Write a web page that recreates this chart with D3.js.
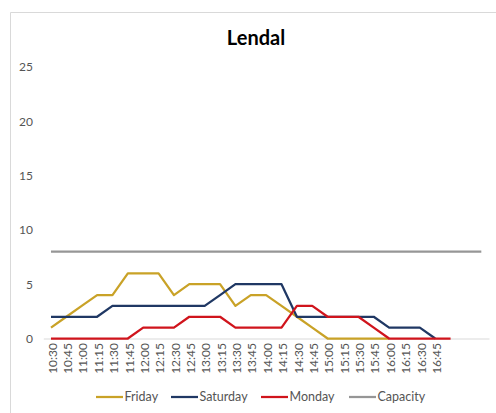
<!DOCTYPE html>
<html>
<head>
<meta charset="utf-8">
<script src="https://cdn.jsdelivr.net/npm/d3@7"></script>
<style>
  html, body { margin: 0; padding: 0; background: #fff; }
  svg { display: block; }
  text { font-family: Lato, "Open Sans", sans-serif; }
</style>
</head>
<body>
<svg id="chart" width="496" height="413"></svg>
<script>
const categories = ["10:30","10:45","11:00","11:15","11:30","11:45","12:00","12:15","12:30","12:45",
  "13:00","13:15","13:30","13:45","14:00","14:15","14:30","14:45","15:00","15:15",
  "15:30","15:45","16:00","16:15","16:30","16:45","","",""];
const friday   = [1,2,3,4,4,6,6,6,4,5,5,5,3,4,4,3,2,1,0,0,0,0,0,null,null,null,null,null,null];
const saturday = [2,2,2,2,3,3,3,3,3,3,3,4,5,5,5,5,2,2,2,2,2,2,1,1,1,0,null,null,null];
const monday   = [0,0,0,0,0,0,1,1,1,2,2,2,1,1,1,1,3,3,2,2,2,1,0,0,0,0,0,null,null];
const capacity = [8,8,8,8,8,8,8,8,8,8,8,8,8,8,8,8,8,8,8,8,8,8,8,8,8,8,8,8,8];
const yTicks = [0,5,10,15,20,25];
const title = "Lendal";

const series = [
  {name: "Friday",   values: friday,   color: "#C9A227"},
  {name: "Saturday", values: saturday, color: "#203864"},
  {name: "Monday",   values: monday,   color: "#D0141C"},
  {name: "Capacity", values: capacity, color: "#969696"}
];

const svg = d3.select("#chart");

// chart area border (cropped at right/bottom)
svg.append("path")
  .attr("d", "M10.5,413 L10.5,12.5 L496,12.5")
  .attr("fill", "none").attr("stroke", "#D9D9D9").attr("stroke-width", 1);

svg.append("text")
  .attr("x", 256).attr("y", 45)
  .attr("text-anchor", "middle")
  .attr("font-size", 20).attr("font-weight", "bold").attr("fill", "#000")
  .text(title);

const x = d3.scaleBand().domain(d3.range(categories.length)).range([43.3, 489]);
const y = d3.scaleLinear().domain([0, 25]).range([338.5, 67]);

// y axis labels
const yAxis = d3.axisLeft(y).tickValues(yTicks).tickSize(0).tickPadding(0);
const gy = svg.append("g").attr("transform", "translate(33,0)").call(yAxis);
gy.select(".domain").remove();
gy.selectAll("text").attr("font-size", 12).attr("fill", "#555")
  .style("font-family", "Lato, sans-serif");

// x axis
const xAxis = d3.axisBottom(x).tickSize(0).tickPadding(0).tickFormat(i => categories[i]);
const gx = svg.append("g").attr("transform", "translate(0,338.5)").call(xAxis);
gx.select(".domain").attr("stroke", "#D9D9D9").attr("stroke-width", 1);
gx.selectAll("text")
  .attr("font-size", 12).attr("fill", "#555")
  .style("font-family", "Lato, sans-serif")
  .attr("text-anchor", "end")
  .attr("transform", "translate(1.5,4.5) rotate(-90)")
  .attr("x", 0).attr("y", 0).attr("dy", "0.35em");

const line = d3.line()
  .defined(d => d != null)
  .x((d, i) => x(i) + x.bandwidth() / 2)
  .y(d => y(d));

const drawOrder = [series[3], series[0], series[1], series[2]];
drawOrder.forEach(s => {
  svg.append("path")
    .datum(s.values)
    .attr("fill", "none")
    .attr("stroke", s.color)
    .attr("stroke-width", 2.25)
    .attr("stroke-linejoin", "round")
    .attr("d", line);
});

// legend
const legendX = [96, 171, 261, 349];
const lg = svg.append("g");
series.forEach((s, i) => {
  const g = lg.append("g").attr("transform", `translate(${legendX[i]},397)`);
  g.append("line").attr("x1", 0).attr("x2", 27).attr("y1", 0).attr("y2", 0)
    .attr("stroke", s.color).attr("stroke-width", 2.25);
  g.append("text").attr("x", 28.5).attr("y", 0).attr("dy", "0.35em")
    .attr("font-size", 12.5).attr("fill", "#555").text(s.name);
});
</script>
</body>
</html>
